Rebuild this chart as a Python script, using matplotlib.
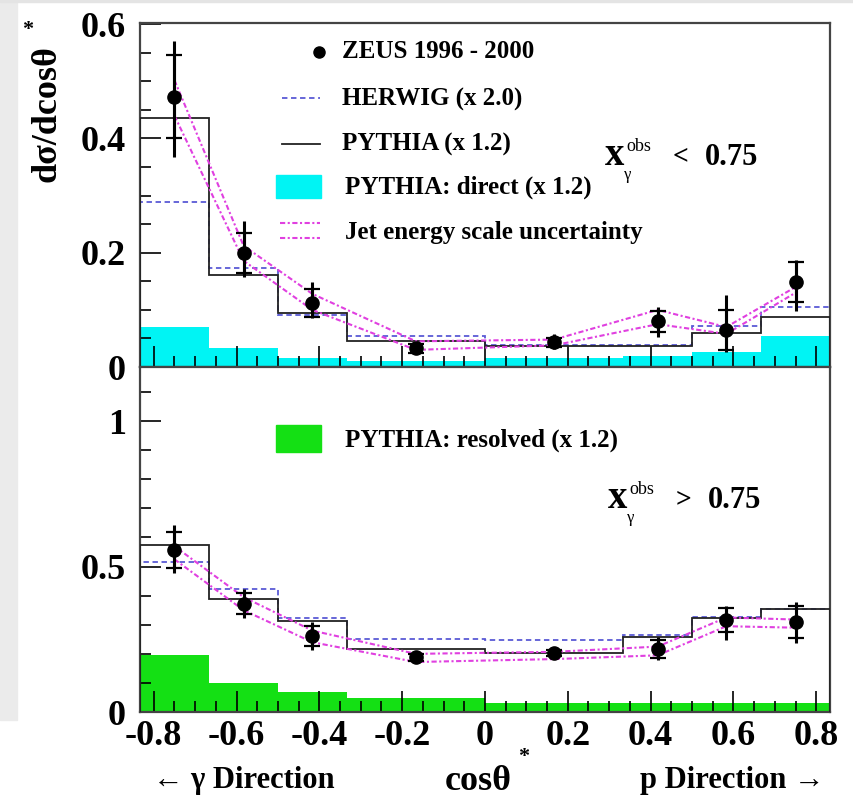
import matplotlib
matplotlib.use('Agg')
import matplotlib.pyplot as plt
from matplotlib.lines import Line2D
from matplotlib.patches import Rectangle
from matplotlib.ticker import MultipleLocator

plt.rcParams['font.family'] = ['Liberation Serif', 'DejaVu Serif']
plt.rcParams['font.weight'] = 'bold'
plt.rcParams['axes.unicode_minus'] = False

# cos(theta*) binning: the two central bins are merged
edges = [-0.8333, -0.6667, -0.5, -0.3333, 0.0, 0.3333, 0.5, 0.6667, 0.8333]
centres = [-0.75, -0.583, -0.417, -0.167, 0.167, 0.417, 0.583, 0.75]

# x_gamma^obs < 0.75
data_lo = [0.473, 0.200, 0.112, 0.033, 0.043, 0.080, 0.065, 0.148]
stat_lo = [0.073, 0.035, 0.025, 0.008, 0.008, 0.018, 0.035, 0.035]
errup_lo = [0.097, 0.056, 0.037, 0.011, 0.015, 0.025, 0.061, 0.040]
errdn_lo = [0.105, 0.042, 0.026, 0.011, 0.012, 0.028, 0.038, 0.050]
pythia_lo = [0.435, 0.161, 0.094, 0.045, 0.036, 0.036, 0.060, 0.088]
herwig_lo = [0.289, 0.173, 0.091, 0.054, 0.038, 0.038, 0.072, 0.105]
direct_lo = [0.070, 0.033, 0.016, 0.010, 0.016, 0.019, 0.027, 0.054]
jesup_lo = [0.502, 0.212, 0.128, 0.045, 0.048, 0.100, 0.070, 0.140]
jesdn_lo = [0.440, 0.186, 0.100, 0.030, 0.038, 0.075, 0.058, 0.130]

# x_gamma^obs > 0.75
data_hi = [0.557, 0.373, 0.261, 0.189, 0.202, 0.216, 0.316, 0.310]
stat_hi = [0.062, 0.035, 0.035, 0.012, 0.010, 0.030, 0.040, 0.055]
errup_hi = [0.086, 0.049, 0.049, 0.020, 0.015, 0.042, 0.049, 0.068]
errdn_hi = [0.079, 0.050, 0.048, 0.020, 0.015, 0.037, 0.069, 0.072]
pythia_hi = [0.574, 0.388, 0.313, 0.215, 0.202, 0.259, 0.324, 0.354]
herwig_hi = [0.516, 0.423, 0.323, 0.250, 0.247, 0.264, 0.327, 0.354]
resolved_hi = [0.196, 0.100, 0.068, 0.048, 0.030, 0.030, 0.030, 0.030]
jesup_hi = [0.570, 0.395, 0.280, 0.200, 0.207, 0.225, 0.325, 0.318]
jesdn_hi = [0.525, 0.350, 0.240, 0.172, 0.182, 0.195, 0.295, 0.290]

HERWIG_C = '#5a5ad6'
JES_C = '#e040e0'
CYAN = '#00f4f4'
GREEN = '#14e014'
HERWIG_LS = (0, (3, 2))
JES_LS = (0, (2.5, 1.2, 1, 1.2))


def draw_panel(ax, data, stat, errup, errdn, pythia, herwig, part, part_color, jesup, jesdn):
    ax.stairs(part, edges, fill=True, color=part_color, lw=0, zorder=1)
    ax.stairs(herwig, edges, baseline=0, color=HERWIG_C, ls=HERWIG_LS, lw=1.3, zorder=2)
    ax.stairs(pythia, edges, baseline=0, color='#222222', lw=1.3, zorder=3)
    for band in (jesup, jesdn):
        ax.plot(centres, band, color=JES_C, ls=JES_LS, lw=1.5, zorder=4)
    # outer bars: stat+syst, ticks mark the statistical part
    ax.errorbar(centres, data, yerr=[errdn, errup], fmt='none', ecolor='k',
                elinewidth=2.2, zorder=5)
    ax.errorbar(centres, data, yerr=stat, fmt='o', color='k', ms=9.5,
                elinewidth=2.2, capsize=6, capthick=1.6, zorder=6)
    ax.set_xlim(edges[0], edges[-1])
    ax.xaxis.set_major_locator(MultipleLocator(0.2))
    ax.xaxis.set_minor_locator(MultipleLocator(0.05))
    ax.tick_params(which='both', direction='in', top=False, right=False,
                   width=1.2, labelsize=26)
    ax.tick_params(which='major', length=15)
    ax.tick_params(which='minor', length=8)
    ax.tick_params(axis='y', pad=10)
    ax.tick_params(axis='x', pad=6)
    for sp in ax.spines.values():
        sp.set_linewidth(1.6)
        sp.set_color('#444444')


W, H = 854, 797
fig = plt.figure(figsize=(W / 100, H / 100), dpi=100)
fig.patches.append(Rectangle((0, 1 - 720 / H), 17 / W, 720 / H, transform=fig.transFigure,
                             color='#ebebeb', zorder=-10))
fig.patches.append(Rectangle((0, 1 - 2 / H), 1, 2 / H, transform=fig.transFigure,
                             color='#e4e4e4', zorder=-10))

ax1 = fig.add_axes([0.1639, 0.5395, 0.808, 0.4316])
ax2 = fig.add_axes([0.1639, 0.1066, 0.808, 0.4329])

draw_panel(ax1, data_lo, stat_lo, errup_lo, errdn_lo, pythia_lo, herwig_lo,
           direct_lo, CYAN, jesup_lo, jesdn_lo)
draw_panel(ax2, data_hi, stat_hi, errup_hi, errdn_hi, pythia_hi, herwig_hi,
           resolved_hi, GREEN, jesup_hi, jesdn_hi)

ax1.set_ylim(0, 0.602)
ax1.set_yticks([0, 0.2, 0.4, 0.6], ['0', '0.2', '0.4', '0.6'])
ax1.yaxis.set_minor_locator(MultipleLocator(0.05))
ax1.tick_params(axis='x', labelbottom=False)

ax2.set_ylim(0, 1.186)
ax2.set_yticks([0, 0.5, 1.0], ['0', '0.5', '1'])
ax2.yaxis.set_minor_locator(MultipleLocator(0.1))
ax2.set_xticks([-0.8, -0.6, -0.4, -0.2, 0, 0.2, 0.4, 0.6, 0.8],
               ['-0.8', '-0.6', '-0.4', '-0.2', '0', '0.2', '0.4', '0.6', '0.8'])

# legend, drawn by hand in axes coordinates
LEG_FS = 18
tr = ax1.transAxes
ax1.add_line(Line2D([0.259], [0.916], marker='o', ms=8, color='k', transform=tr))
ax1.text(0.293, 0.918, 'ZEUS 1996 - 2000', transform=tr, fontsize=LEG_FS, va='center')
ax1.add_line(Line2D([0.206, 0.261], [0.782, 0.782], color=HERWIG_C, ls=HERWIG_LS, lw=1.3,
                    transform=tr))
ax1.text(0.293, 0.779, 'HERWIG (x 2.0)', transform=tr, fontsize=LEG_FS, va='center')
ax1.add_line(Line2D([0.206, 0.261], [0.648, 0.648], color='#222222', lw=1.3, transform=tr))
ax1.text(0.293, 0.648, 'PYTHIA (x 1.2)', transform=tr, fontsize=LEG_FS, va='center')
ax1.add_patch(Rectangle((0.197, 0.491), 0.065, 0.067, color=CYAN, transform=tr))
ax1.text(0.297, 0.523, 'PYTHIA: direct (x 1.2)', transform=tr, fontsize=LEG_FS, va='center')
for yy in (0.419, 0.375):
    ax1.add_line(Line2D([0.203, 0.261], [yy, yy], color=JES_C, ls=JES_LS, lw=1.5, transform=tr))
ax1.text(0.297, 0.392, 'Jet energy scale uncertainty', transform=tr, fontsize=LEG_FS,
         va='center')

tr2 = ax2.transAxes
ax2.add_patch(Rectangle((0.197, 0.754), 0.065, 0.078, color=GREEN, transform=tr2))
ax2.text(0.297, 0.788, 'PYTHIA: resolved (x 1.2)', transform=tr2, fontsize=LEG_FS,
         va='center')


def xgamma_cut(px, py, op):
    # x_gamma^obs with its cut value, baseline at pixel row py
    fx = lambda v: v / W
    fy = lambda v: 1 - v / H
    fig.text(fx(px), fy(py), 'x', fontsize=28, ha='left', va='baseline')
    fig.text(fx(px + 21), fy(py - 14), 'obs', fontsize=13, ha='left', va='baseline',
             fontweight='normal')
    fig.text(fx(px + 19), fy(py + 14), 'γ', fontsize=12, ha='left', va='baseline',
             fontweight='normal')
    fig.text(fx(px + 68), fy(py - 2), op, fontsize=20, ha='left', va='baseline')
    fig.text(fx(px + 100), fy(py), '0.75', fontsize=22, ha='left', va='baseline')


xgamma_cut(605, 165, '<')
xgamma_cut(608, 508, '>')

# axis titles
fig.text(47 / W, 1 - 114 / H, 'dσ/dcosθ', rotation=90, fontsize=26, ha='center',
         va='center')
fig.text(28 / W, 1 - 30 / H, '*', fontsize=16, ha='center', va='center')
fig.text(478 / W, 1 - 790 / H, 'cosθ', fontsize=26, ha='center', va='baseline')
fig.text(524 / W, 1 - 757 / H, '*', fontsize=16, ha='center', va='center')
fig.text(153 / W, 1 - 788 / H, '← γ Direction', fontsize=22, ha='left', va='baseline')
fig.text(825 / W, 1 - 788 / H, 'p Direction →', fontsize=22, ha='right', va='baseline')

fig.savefig('out.png', dpi=100)
